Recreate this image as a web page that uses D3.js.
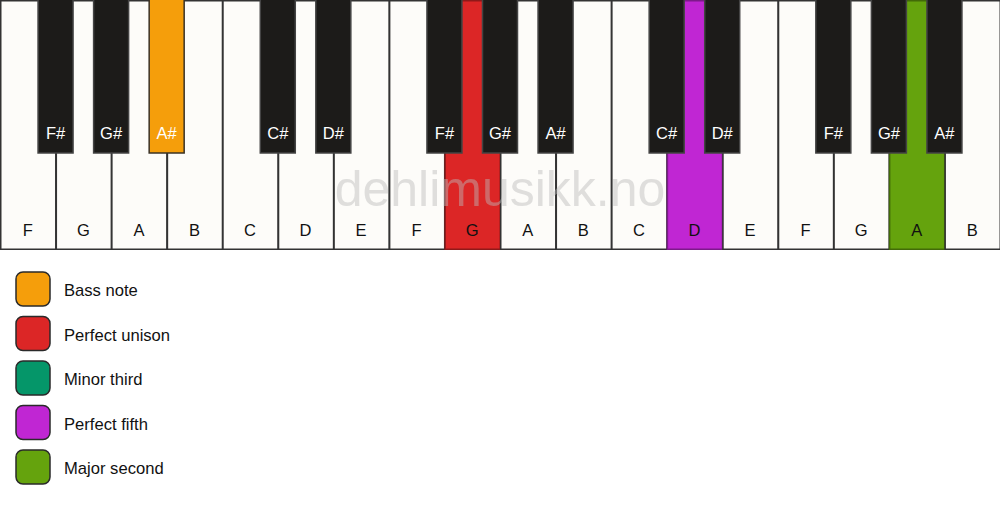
<!DOCTYPE html>
<html>
<head>
<meta charset="utf-8">
<script src="https://cdn.jsdelivr.net/npm/d3@7"></script>
<style>
  body { margin: 0; background: #fff; }
  text { font-family: "Liberation Sans", Arial, sans-serif; }
</style>
</head>
<body>
<div id="chart"></div>
<script>
// white keys, left to right
const whiteNotes = ["F","G","A","B","C","D","E","F","G","A","B","C","D","E","F","G","A","B"];
// black keys: label + index of white key they sit after
const blackNotes = ["F#","G#","A#","C#","D#","F#","G#","A#","C#","D#","F#","G#","A#"];
const blackAfter = [0, 1, 2, 4, 5, 7, 8, 9, 11, 12, 14, 15, 16];

// highlighted keys -> legend category
const whiteHighlight = { 8: "Perfect unison", 12: "Perfect fifth", 16: "Major second" };
const blackHighlight = { 2: "Bass note" };

const legendLabels = ["Bass note", "Perfect unison", "Minor third", "Perfect fifth", "Major second"];
const legendColors = ["#f59e0b", "#dc2626", "#059669", "#c026d3", "#65a30d"];

const svgWidth = 1000;
const svgHeight = 506;
const keyHeight = 250;
const blackHeight = 153;
const blackWidth = 35;

const svg = d3.select("#chart")
    .append("svg")
    .attr("width", svgWidth)
    .attr("height", svgHeight);

const color = d3.scaleOrdinal().domain(legendLabels).range(legendColors);

let x = d3.scaleLinear()
    .domain([0, whiteNotes.length])
    .range([0, svgWidth]);

let keys = svg.append("g");

// white keys
keys.selectAll("rect.white")
    .data(whiteNotes)
    .enter()
    .append("rect")
    .attr("class", "white")
    .attr("x", (d, i) => x(i) + 0.75)
    .attr("y", 0.75)
    .attr("width", x(1) - x(0) - 0.5)
    .attr("height", keyHeight - 1.5)
    .attr("fill", (d, i) => whiteHighlight[i] ? color(whiteHighlight[i]) : "#fdfcf9")
    .attr("stroke", (d, i) => whiteHighlight[i] ? d3.color(color(whiteHighlight[i])).darker(1.2) : "#333")
    .attr("stroke-width", 1.5);

// watermark
svg.append("text")
    .attr("x", svgWidth / 2)
    .attr("y", 206)
    .attr("text-anchor", "middle")
    .style("font-size", "50px")
    .style("fill", "#bbb")
    .style("opacity", 0.45)
    .text("dehlimusikk.no");

keys.selectAll("text.white")
    .data(whiteNotes)
    .enter()
    .append("text")
    .attr("class", "white")
    .attr("x", (d, i) => x(i + 0.5))
    .attr("y", 236)
    .attr("text-anchor", "middle")
    .style("font-size", "16.5px")
    .style("fill", "#111")
    .text(d => d);

// black keys
keys.selectAll("rect.black")
    .data(blackNotes)
    .enter()
    .append("rect")
    .attr("class", "black")
    .attr("x", (d, i) => x(blackAfter[i] + 1) - blackWidth / 2)
    .attr("y", -1)
    .attr("width", blackWidth)
    .attr("height", blackHeight + 1)
    .attr("fill", (d, i) => blackHighlight[blackAfter[i]] ? color(blackHighlight[blackAfter[i]]) : "#1c1b19")
    .attr("stroke", (d, i) => blackHighlight[blackAfter[i]] ? "#3a3226" : "#444")
    .attr("stroke-width", 1.5);

keys.selectAll("text.black")
    .data(blackNotes)
    .enter()
    .append("text")
    .attr("class", "black")
    .attr("x", (d, i) => x(blackAfter[i] + 1))
    .attr("y", 139)
    .attr("text-anchor", "middle")
    .style("font-size", "16.5px")
    .style("fill", "#fff")
    .text(d => d);

// legend
let legend = svg.append("g")
    .selectAll("g")
    .data(legendLabels)
    .enter()
    .append("g")
    .attr("transform", (d, i) => `translate(16, ${272 + i * 44.5})`);

legend.append("rect")
    .attr("width", 34)
    .attr("height", 34)
    .attr("rx", 7)
    .attr("fill", d => color(d))
    .attr("stroke", "#2a2a2a")
    .attr("stroke-width", 1.5);

legend.append("text")
    .attr("x", 48)
    .attr("y", 24)
    .style("font-size", "16.6px")
    .style("fill", "#111")
    .text(d => d);
</script>
</body>
</html>
